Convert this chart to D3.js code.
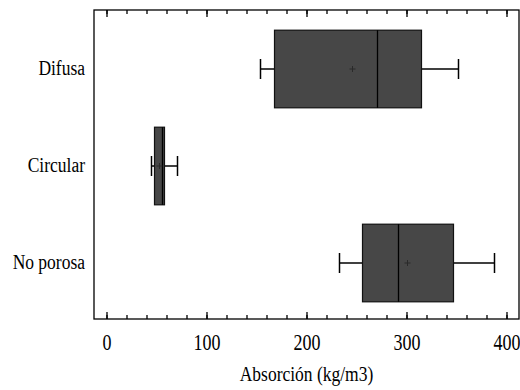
<!DOCTYPE html>
<html>
<head>
<meta charset="utf-8">
<script src="https://cdn.jsdelivr.net/npm/d3@7"></script>
<style>
  body { margin: 0; background: #fff; }
  svg text { font-family: "Liberation Serif", "Times New Roman", "DejaVu Serif", serif !important; fill: #000; }
</style>
</head>
<body>
<div id="chart"></div>
<script>
// box plot values
var categories = ["Difusa", "Circular", "No porosa"];
var mins    = [154, 45, 233];
var q1s     = [168, 48, 256];
var medians = [271, 56, 292];
var q3s     = [315, 58, 347];
var maxs    = [352, 71, 388];
var means   = [246, 53, 301];
var majorTicks = [0, 100, 200, 300, 400];
var minorTicks = d3.range(0, 401, 20);

var W = 520, H = 390;
var frameL = 94, frameR = 519, frameT = 10, frameB = 319;
var serif = "'Liberation Serif', 'Times New Roman', serif";

var svg = d3.select("#chart").append("svg").attr("width", W).attr("height", H)
    .attr("font-family", serif);

var x = d3.scaleLinear().domain([-12.5, 412.5]).range([frameL, frameR]);
var y = d3.scaleBand().domain(categories).range([frameT + 10.5, frameB - 7.5])
    .paddingInner(0.2).paddingOuter(0.1);

var rows = categories.map(function (c, i) {
    return { cat: c, min: mins[i], q1: q1s[i], med: medians[i], q3: q3s[i], max: maxs[i], mean: means[i] };
});

// ticks, pointing inside the frame, top and bottom
function ticks(axis, values, size, yPos) {
    var g = svg.append("g").attr("transform", "translate(0," + yPos + ")")
        .call(axis(x).tickValues(values).tickSize(size).tickFormat(""));
    g.select(".domain").remove();
    g.selectAll("line").attr("stroke", "#000").attr("stroke-width", 1.3);
    return g;
}
ticks(d3.axisBottom, minorTicks, -4, frameB);
ticks(d3.axisTop, minorTicks, -4, frameT);
ticks(d3.axisTop, majorTicks, -7, frameT);
var xg = svg.append("g").attr("transform", "translate(0," + frameB + ")")
    .call(d3.axisBottom(x).tickValues(majorTicks).tickSize(-7));
xg.attr("font-family", serif);
xg.select(".domain").remove();
xg.selectAll("line").attr("stroke", "#000").attr("stroke-width", 1.3);
xg.selectAll("text").attr("y", 0).attr("dy", null)
    .attr("font-family", serif)
    .attr("font-size", 18)
    .attr("transform", "translate(0,31) scale(1,1.25)");

var yg = svg.append("g").attr("transform", "translate(" + frameL + ",0)")
    .call(d3.axisLeft(y).tickSize(0).tickPadding(9));
yg.attr("font-family", serif);
yg.select(".domain").remove();
yg.selectAll("text").attr("y", 0).attr("dy", null)
    .attr("font-family", serif)
    .attr("font-size", 17.5)
    .attr("transform", "translate(0,6) scale(1,1.25)");

svg.append("text")
    .attr("text-anchor", "middle")
    .attr("font-family", serif)
    .attr("font-size", 17.5)
    .attr("transform", "translate(" + ((frameL + frameR) / 2) + ",381) scale(1,1.25)")
    .text("Absorción (kg/m3)");

// boxes
var box = svg.selectAll(".box").data(rows).enter().append("g").attr("class", "box");
var cy = function (d) { return y(d.cat) + y.bandwidth() / 2; };

box.append("line")
    .attr("x1", function (d) { return x(d.min); })
    .attr("x2", function (d) { return x(d.max); })
    .attr("y1", cy).attr("y2", cy)
    .attr("stroke", "#000").attr("stroke-width", 1.5);
box.selectAll(".cap").data(function (d) { return [d.min, d.max].map(function (v) { return { v: v, d: d }; }); })
    .enter().append("line")
    .attr("x1", function (e) { return x(e.v); })
    .attr("x2", function (e) { return x(e.v); })
    .attr("y1", function (e) { return cy(e.d) - 10; })
    .attr("y2", function (e) { return cy(e.d) + 10; })
    .attr("stroke", "#000").attr("stroke-width", 1.5);
box.append("rect")
    .attr("x", function (d) { return x(d.q1); })
    .attr("width", function (d) { return x(d.q3) - x(d.q1); })
    .attr("y", function (d) { return y(d.cat); })
    .attr("height", y.bandwidth())
    .attr("fill", "#474747").attr("stroke", "#111").attr("stroke-width", 1.2);
box.append("line")
    .attr("x1", function (d) { return x(d.med); })
    .attr("x2", function (d) { return x(d.med); })
    .attr("y1", function (d) { return y(d.cat); })
    .attr("y2", function (d) { return y(d.cat) + y.bandwidth(); })
    .attr("stroke", "#000").attr("stroke-width", 1.3);
box.append("path")
    .attr("d", function (d) {
        var mx = x(d.mean), my = cy(d);
        return "M" + (mx - 3) + "," + my + "H" + (mx + 3) + "M" + mx + "," + (my - 3) + "V" + (my + 3);
    })
    .attr("stroke", "#2a2a2a").attr("stroke-width", 1);

// frame
svg.append("rect")
    .attr("x", frameL).attr("y", frameT)
    .attr("width", frameR - frameL).attr("height", frameB - frameT)
    .attr("fill", "none").attr("stroke", "#000").attr("stroke-width", 1.3);
</script>
</body>
</html>
